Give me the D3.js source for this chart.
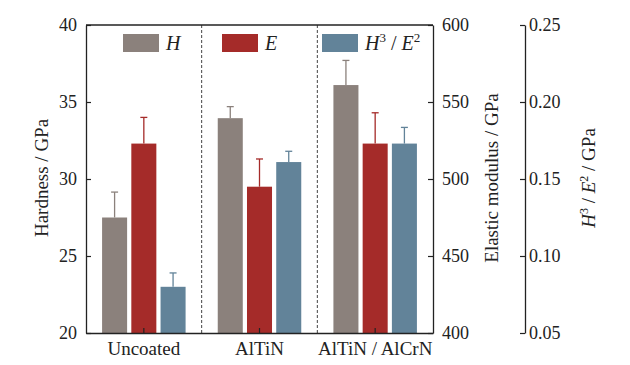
<!DOCTYPE html>
<html><head><meta charset="utf-8">
<script src="https://cdn.jsdelivr.net/npm/d3@7"></script>
<style>body{margin:0;background:#fff}svg{display:block}</style>
</head><body><svg id="c" width="630" height="365" font-family="Liberation Serif"></svg>
<script>
const categories = ["Uncoated", "AlTiN", "AlTiN / AlCrN"];
const series = ["H", "E", "R"];
const hardness = [27.5, 33.95, 36.1];
const hardnessErr = [1.65, 0.75, 1.6];
const modulus = [523, 495, 523];
const modulusErr = [17, 18, 20];
const ratio = [0.080, 0.161, 0.173];
const ratioErr = [0.009, 0.007, 0.0105];
const hTicks = [20, 25, 30, 35, 40];
const eTicks = [400, 450, 500, 550, 600];
const rTicks = [0.05, 0.10, 0.15, 0.20, 0.25];
const colors = {H: "#8b817c", E: "#a52b29", R: "#628399"};
const FF = "Liberation Serif";

const svg = d3.select("#c");
const L = 86, R = 433, T = 25, B = 333, R2 = 525;
const x0 = d3.scaleBand().domain(categories).range([L, R]).padding(0);
const x1 = d3.scaleBand().domain(series).range([0, x0.bandwidth()]).paddingInner(0.144).paddingOuter(0.55);
const yH = d3.scaleLinear().domain([20, 40]).range([B, T]);
const yE = d3.scaleLinear().domain([400, 600]).range([B, T]);
const yR = d3.scaleLinear().domain([0.05, 0.25]).range([B, T]);

const rows = [];
categories.forEach((c, i) => {
  rows.push({c, s: "H", v: hardness[i], e: hardnessErr[i], y: yH});
  rows.push({c, s: "E", v: modulus[i], e: modulusErr[i], y: yE});
  rows.push({c, s: "R", v: ratio[i], e: ratioErr[i], y: yR});
});

// separators
svg.selectAll("line.sep").data(categories.slice(1)).join("line")
  .attr("x1", d => x0(d)).attr("x2", d => x0(d)).attr("y1", T).attr("y2", B)
  .attr("stroke", "#444").attr("stroke-width", 1).attr("stroke-dasharray", "3,2");

// error bars
const eb = svg.append("g");
rows.forEach(r => {
  const cx = x0(r.c) + x1(r.s) + x1.bandwidth() / 2;
  const top = r.y(r.v + r.e), base = r.y(r.v);
  eb.append("line").attr("x1", cx).attr("x2", cx).attr("y1", base).attr("y2", top)
    .attr("stroke", colors[r.s]).attr("stroke-width", 1.3);
  eb.append("line").attr("x1", cx - 3.5).attr("x2", cx + 3.5).attr("y1", top).attr("y2", top)
    .attr("stroke", colors[r.s]).attr("stroke-width", 1.3);
});

// bars
svg.append("g").selectAll("rect").data(rows).join("rect")
  .attr("x", d => x0(d.c) + x1(d.s)).attr("width", x1.bandwidth())
  .attr("y", d => d.y(d.v)).attr("height", d => B - d.y(d.v))
  .attr("fill", d => colors[d.s]);

// axes
const gl = svg.append("g").attr("transform", `translate(${L},0)`)
  .call(d3.axisLeft(yH).tickValues(hTicks).tickSizeInner(-5).tickSizeOuter(0).tickPadding(9).tickFormat(d3.format("d")));
const gr = svg.append("g").attr("transform", `translate(${R},0)`)
  .call(d3.axisRight(yE).tickValues(eTicks).tickSizeInner(-5).tickSizeOuter(0).tickPadding(9).tickFormat(d3.format("d")));
const g3 = svg.append("g").attr("transform", `translate(${R2},0)`)
  .call(d3.axisRight(yR).tickValues(rTicks).tickSizeInner(-5).tickSizeOuter(0).tickPadding(8).tickFormat(d3.format(".2f")));
const gb = svg.append("g").attr("transform", `translate(0,${B})`)
  .call(d3.axisBottom(x0).tickSizeInner(-5).tickSizeOuter(0).tickPadding(9));
[gl, gr, g3, gb].forEach(g => {
  g.attr("font-family", FF).attr("font-size", 18);
  g.selectAll("path.domain").attr("stroke", "#222").attr("stroke-width", 1.3);
  g.selectAll(".tick line").attr("stroke", "#222").attr("stroke-width", 1.2);
  g.selectAll("text").attr("fill", "#222").attr("font-family", FF);
});
g3.selectAll(".tick line").attr("x2", -5);
g3.selectAll(".tick text").attr("x", 4);
gb.attr("font-size", 19);
// top border
svg.append("line").attr("x1", L).attr("x2", R).attr("y1", T).attr("y2", T).attr("stroke", "#222").attr("stroke-width", 1.3);

// axis titles
svg.append("text").attr("transform", `translate(48,178) rotate(-90)`).attr("text-anchor", "middle")
  .attr("font-family", FF).attr("font-size", 19).attr("fill", "#222").text("Hardness / GPa");
svg.append("text").attr("transform", `translate(498,178) rotate(-90)`).attr("text-anchor", "middle")
  .attr("font-family", FF).attr("font-size", 19).attr("fill", "#222").text("Elastic modulus / GPa");
const t3 = svg.append("text").attr("transform", `translate(595,178) rotate(-90)`).attr("text-anchor", "middle")
  .attr("font-family", FF).attr("font-size", 19).attr("fill", "#222");
t3.append("tspan").attr("font-style", "italic").text("H");
t3.append("tspan").attr("dy", -7).attr("font-size", 12).text("3");
t3.append("tspan").attr("dy", 7).text(" / ");
t3.append("tspan").attr("font-style", "italic").text("E");
t3.append("tspan").attr("dy", -7).attr("font-size", 12).text("2");
t3.append("tspan").attr("dy", 7).text(" / GPa");

// legend
const legX = [123, 222, 322];
series.forEach((s, i) => {
  svg.append("rect").attr("x", legX[i]).attr("y", 34).attr("width", 36).attr("height", 18).attr("fill", colors[s]);
  const t = svg.append("text").attr("x", legX[i] + 43).attr("y", 50)
    .attr("font-family", FF).attr("font-size", 20).attr("fill", "#222");
  if (s === "R") {
    t.append("tspan").attr("font-style", "italic").text("H");
    t.append("tspan").attr("dy", -8).attr("font-size", 13).text("3");
    t.append("tspan").attr("dy", 8).text(" / ");
    t.append("tspan").attr("font-style", "italic").text("E");
    t.append("tspan").attr("dy", -8).attr("font-size", 13).text("2");
  } else {
    t.append("tspan").attr("font-style", "italic").text(s);
  }
});
</script></body></html>
